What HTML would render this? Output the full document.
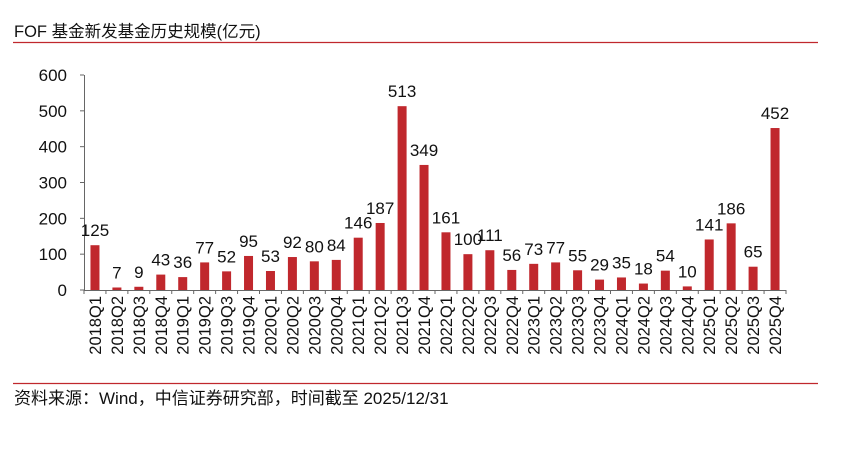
<!DOCTYPE html>
<html><head><meta charset="utf-8"><style>
body{margin:0;background:#fff;width:865px;height:450px;overflow:hidden}
svg{display:block}
text{font-family:"Liberation Sans","Noto Sans CJK SC",sans-serif;fill:#111}
</style></head><body>
<svg width="865" height="450" viewBox="0 0 865 450">
<text x="14" y="37" font-size="16.5">FOF 基金新发基金历史规模(亿元)</text>
<line x1="13" y1="42.5" x2="818" y2="42.5" stroke="#c0282d" stroke-width="1.2"/>
<line x1="13" y1="383.5" x2="818" y2="383.5" stroke="#c0282d" stroke-width="1.2"/>
<text x="14" y="404" font-size="17">资料来源：Wind，中信证券研究部，时间截至 2025/12/31</text>
<g id="c"></g>
</svg>
<script>
const v=[125,7,9,43,36,77,52,95,53,92,80,84,146,187,513,349,161,100,111,56,73,77,55,29,35,18,54,10,141,186,65,452];
const lab=[];for(let y=2018;y<=2025;y++)for(let q=1;q<=4;q++)lab.push(y+"Q"+q);
const x0=84,x1=786,by=290,k=215/600,w=(x1-x0)/32;
let s=`<line x1="${x0}.5" y1="75" x2="${x0}.5" y2="${by}" stroke="#666"/><line x1="${x0}" y1="${by}.5" x2="${x1}" y2="${by}.5" stroke="#666"/>`;
for(let t=0;t<=600;t+=100){const y=by-t*k;s+=`<line x1="${x0-4}" y1="${y}" x2="${x0}" y2="${y}" stroke="#666"/><text x="${x0-17}" y="${y+6}" font-size="17" text-anchor="end">${t}</text>`;}
for(let i=0;i<=32;i++){const x=x0+i*w;s+=`<line x1="${x}" y1="${by}" x2="${x}" y2="${by+4}" stroke="#666"/>`;}
v.forEach((d,i)=>{const c=x0+w*(i+0.5),h=d*k;
s+=`<rect x="${c-4.5}" y="${by-h}" width="9" height="${h}" fill="#c0282d"/>`;
s+=`<text x="${c}" y="${by-h-9}" font-size="17" text-anchor="middle">${d}</text>`;
s+=`<text transform="translate(${c+6},${by+6}) rotate(-90)" font-size="16.5" text-anchor="end">${lab[i]}</text>`;});
document.getElementById('c').innerHTML=s;
</script>
</body></html>
